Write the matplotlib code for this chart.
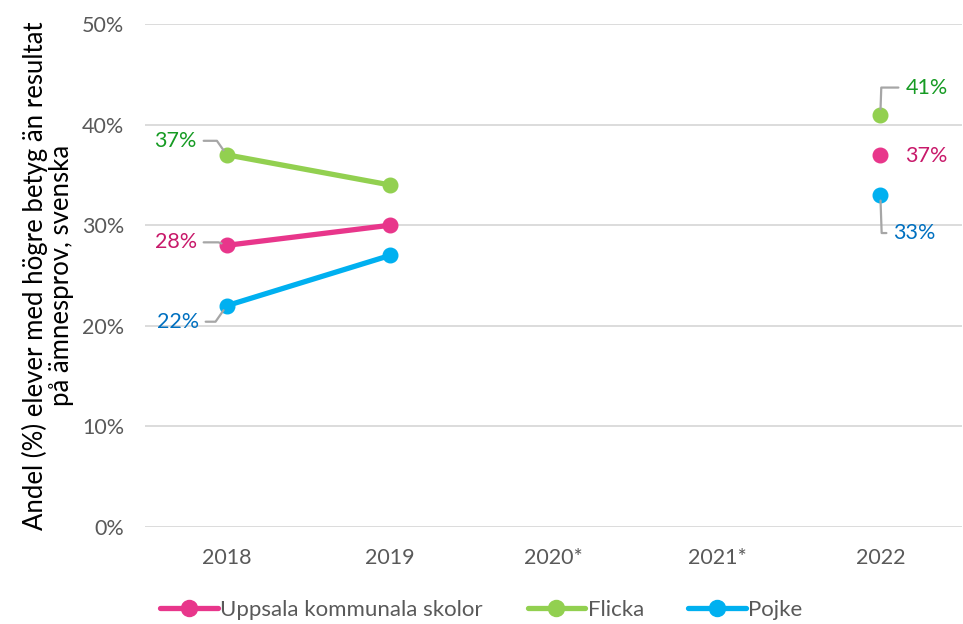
import numpy as np
import matplotlib
matplotlib.use("Agg")
import matplotlib.pyplot as plt
import matplotlib.ticker as mticker

plt.rcParams["font.family"] = ["Lato", "DejaVu Sans"]

years = ["2018", "2019", "2020*", "2021*", "2022"]
uppsala = [28, 30, np.nan, np.nan, 37]
flicka = [37, 34, np.nan, np.nan, 41]
pojke = [22, 27, np.nan, np.nan, 33]

C_PINK = "#E8368B"
C_GREEN = "#92D050"
C_BLUE = "#00B0F0"
T_PINK = "#C8196A"
T_GREEN = "#169B23"
T_BLUE = "#0070C0"
C_TEXT = "#595959"
C_GRID = "#D9D9D9"
C_LEAD = "#A6A6A6"

fig = plt.figure(figsize=(9.63, 6.24), dpi=100)
ax = fig.add_axes([0.1506, 0.1554, 0.8484, 0.8061])

x = np.arange(len(years))
series = [("Uppsala kommunala skolor", uppsala, C_PINK),
          ("Flicka", flicka, C_GREEN),
          ("Pojke", pojke, C_BLUE)]
for name, vals, col in series:
    ax.plot(x, vals, color=col, lw=3.8, marker="o", ms=10.5, label=name,
            solid_capstyle="round")

ax.set_xlim(-0.5, len(years) - 0.5)
ax.set_ylim(0, 50)
ax.set_xticks(x)
ax.set_xticklabels(years)
ax.yaxis.set_major_locator(mticker.MultipleLocator(10))
ax.yaxis.set_major_formatter(mticker.FuncFormatter(lambda v, p: f"{v:.0f}%"))
ax.grid(axis="y", color=C_GRID, lw=1.3)
ax.set_axisbelow(True)
for s in ax.spines.values():
    s.set_visible(False)
ax.tick_params(axis="both", length=0, colors=C_TEXT, labelsize=15.5)
ax.tick_params(axis="x", pad=15)
ax.tick_params(axis="y", pad=15)
ax.set_ylabel("Andel (%) elever med högre betyg än resultat\npå ämnesprov, svenska",
              fontsize=18.5, color="black", labelpad=6, linespacing=1.05)


def label(xi, vals, color, dx, dy, ha, cs=None):
    v = vals[xi]
    kw = {}
    if cs is not None:
        kw["arrowprops"] = dict(arrowstyle="-", color=C_LEAD, lw=1.6,
                                shrinkA=3, shrinkB=4, connectionstyle=cs)
    ax.annotate(f"{v:.0f}%", xy=(xi, v), xytext=(dx, dy),
                textcoords="offset pixels", ha=ha, va="center",
                color=color, fontsize=15.5, **kw)


label(0, flicka, T_GREEN, -30, 14, "right", "angle,angleA=0,angleB=125,rad=0")
label(0, uppsala, T_PINK, -30, 3, "right", "angle,angleA=0,angleB=160,rad=0")
label(0, pojke, T_BLUE, -28, -16, "right", "angle,angleA=0,angleB=235,rad=0")
label(4, flicka, T_GREEN, 25, 27, "left", "angle,angleA=180,angleB=88,rad=0")
label(4, uppsala, T_PINK, 25, -1, "left")
label(4, pojke, T_BLUE, 13, -38, "left", "angle,angleA=180,angleB=272,rad=0")

fig.legend(loc="center", bbox_to_anchor=(0.5, 0.022), ncol=3, frameon=False,
           fontsize=16, labelcolor=C_TEXT, handlelength=2.6, handletextpad=0.1,
           columnspacing=2.0, markerscale=1.1, borderaxespad=0)

plt.savefig("out.png", dpi=100)
plt.close()
